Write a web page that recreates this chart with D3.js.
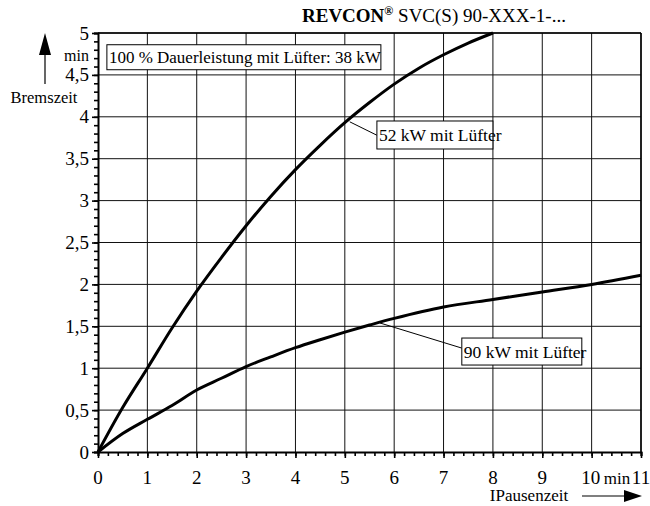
<!DOCTYPE html>
<html><head><meta charset="utf-8">
<script src="https://cdn.jsdelivr.net/npm/d3@7"></script>
<style>body{margin:0;background:#fff}svg{display:block}text{font-family:"Liberation Serif","Times New Roman",serif;fill:#000}</style>
</head><body><svg id="c" width="650" height="506"></svg>
<script>
const xTicks = [0,1,2,3,4,5,6,7,8,9,10,11];
const yTicks = [0,0.5,1,1.5,2,2.5,3,3.5,4,4.5,5];
const yTickLabels = ["0","0,5","1","1,5","2","2,5","3","3,5","4","4,5","5"];
const s52x = [0,0.5,1,1.5,2,2.5,3,3.5,4,4.5,5,5.5,6,6.5,7,7.5,8];
const s52y = [0,0.53,1.0,1.48,1.92,2.32,2.70,3.05,3.37,3.66,3.93,4.17,4.39,4.58,4.74,4.88,5.0];
const s90x = [0,0.5,1,1.5,2,2.5,3,3.5,4,4.5,5,5.5,6,7,8,9,10,11];
const s90y = [0,0.22,0.39,0.555,0.74,0.88,1.02,1.135,1.245,1.34,1.43,1.515,1.595,1.73,1.82,1.91,2.0,2.11];
const labels = ["52 kW mit Lüfter","90 kW mit Lüfter","100 % Dauerleistung mit Lüfter: 38 kW"];

const svg = d3.select("#c");
const x = d3.scaleLinear().domain([0,11]).range([98,641]);
const y = d3.scaleLinear().domain([0,5]).range([452,33]);

// grid
const g = svg.append("g");
g.selectAll("line.v").data(xTicks.slice(1)).join("line")
  .attr("x1",d=>x(d)).attr("x2",d=>x(d)).attr("y1",y(0)).attr("y2",y(5))
  .attr("stroke","#111").attr("stroke-width",1);
g.selectAll("line.h").data(yTicks.slice(1)).join("line")
  .attr("x1",x(0)).attr("x2",x(11)).attr("y1",d=>y(d)).attr("y2",d=>y(d))
  .attr("stroke","#111").attr("stroke-width",1);

// axes
const yAxis = d3.axisLeft(y).tickValues(d3.range(0,5.001,0.1)).tickSize(4).tickFormat("");
const ya = svg.append("g").attr("transform",`translate(${x(0)},0)`).call(yAxis);
ya.selectAll("line").attr("stroke","#000").attr("stroke-width",1.6);
ya.select(".domain").attr("stroke","#000").attr("stroke-width",2);
const yMaj = d3.axisLeft(y).tickValues(yTicks).tickSize(6).tickFormat("");
const ym = svg.append("g").attr("transform",`translate(${x(0)},0)`).call(yMaj);
ym.selectAll("line").attr("stroke","#000").attr("stroke-width",1.6);
ym.select(".domain").remove();

const xAxis = d3.axisBottom(x).tickValues(d3.range(0,11.001,0.2)).tickSize(4).tickFormat("");
const xa = svg.append("g").attr("transform",`translate(0,${y(0)})`).call(xAxis);
xa.selectAll("line").attr("stroke","#000").attr("stroke-width",1.6);
xa.select(".domain").attr("stroke","#000").attr("stroke-width",2);
const xMaj = d3.axisBottom(x).tickValues(xTicks).tickSize(6).tickFormat("");
const xm = svg.append("g").attr("transform",`translate(0,${y(0)})`).call(xMaj);
xm.selectAll("line").attr("stroke","#000").attr("stroke-width",1.6);
xm.select(".domain").remove();

// tick labels
svg.selectAll("text.yl").data(yTicks).join("text")
  .attr("x",89).attr("y",d=>y(d)+6.5).attr("text-anchor","end")
  .attr("font-size",19).text((d,i)=>yTickLabels[i]);
svg.selectAll("text.xl").data(xTicks).join("text")
  .attr("x",d=>x(d) - (d===10?1:0)).attr("y",484).attr("text-anchor","middle")
  .attr("font-size",19).text(d=>String(d));
svg.append("text").attr("x",89).attr("y",61).attr("text-anchor","end").attr("font-size",16).text("min");
svg.append("text").attr("x",617).attr("y",484).attr("text-anchor","middle").attr("font-size",17).text("min");

// axis titles and arrows
svg.append("text").attr("x",44).attr("y",103).attr("text-anchor","middle").attr("font-size",16.5).text("Bremszeit");
svg.append("line").attr("x1",45).attr("x2",45).attr("y1",84).attr("y2",50).attr("stroke","#000").attr("stroke-width",1.2);
svg.append("path").attr("d","M45,33 L39,55 L51,55 Z").attr("fill","#000");
svg.append("text").attr("x",529).attr("y",501).attr("text-anchor","middle").attr("font-size",17).text("IPausenzeit");
svg.append("line").attr("x1",582).attr("x2",626).attr("y1",496).attr("y2",496).attr("stroke","#000").attr("stroke-width",1.2);
svg.append("path").attr("d","M642,496 L624,490 L624,502 Z").attr("fill","#000");

// title
const t = svg.append("text").attr("x",302).attr("y",22).attr("font-size",19);
t.append("tspan").attr("font-weight","bold").text("REVCON");
t.append("tspan").attr("font-weight","bold").attr("font-size",12).attr("dy",-7).text("®");
t.append("tspan").attr("dy",7).text(" SVC(S) 90-XXX-1-...");

// curves
const line = d3.line().x(d=>x(d[0])).y(d=>y(d[1])).curve(d3.curveCatmullRom.alpha(0.5));
svg.append("path").datum(s52x.map((v,i)=>[v,s52y[i]])).attr("d",line)
  .attr("fill","none").attr("stroke","#000").attr("stroke-width",3);
svg.append("path").datum(s90x.map((v,i)=>[v,s90y[i]])).attr("d",line)
  .attr("fill","none").attr("stroke","#000").attr("stroke-width",3);

// frame top/right
svg.append("line").attr("x1",x(0)).attr("x2",x(11)).attr("y1",y(5)).attr("y2",y(5)).attr("stroke","#000").attr("stroke-width",1.5);
svg.append("line").attr("x1",x(11)).attr("x2",x(11)).attr("y1",y(5)).attr("y2",y(0)).attr("stroke","#000").attr("stroke-width",1.5);

// callouts
function callout(bx,by,bw,bh,text,fs,lead){
  if(lead) svg.append("line").attr("x1",x(lead[0])).attr("y1",y(lead[1])).attr("x2",x(lead[2])).attr("y2",y(lead[3])).attr("stroke","#000").attr("stroke-width",1);
  svg.append("rect").attr("x",x(bx)).attr("y",y(by)).attr("width",bw).attr("height",bh)
    .attr("fill","#fff").attr("stroke","#000").attr("stroke-width",1);
  svg.append("text").attr("x",x(bx)+2).attr("y",y(by)+bh/2+6).attr("font-size",fs).text(text);
}
callout(0.18,4.86,274,25,labels[2],17,null);
callout(5.65,3.95,116,28,labels[0],17.5,[5.1,3.94,5.65,3.78]);
callout(7.37,1.36,120,27,labels[1],17.5,[5.71,1.54,7.37,1.24]);
</script></body></html>
